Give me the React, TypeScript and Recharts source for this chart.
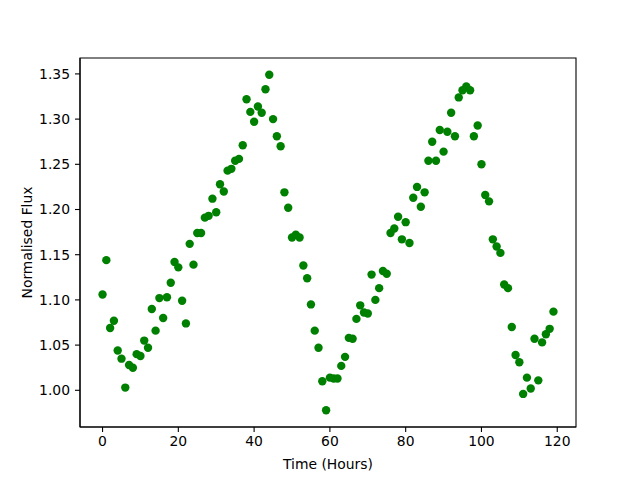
import { ReferenceArea, Scatter, ScatterChart, XAxis, YAxis } from "recharts";

const hours = Array.from({ length: 120 }, (_, i) => i);

const flux = [
  1.106, 1.144, 1.069, 1.077, 1.044, 1.035, 1.003, 1.028, 1.025, 1.040,
  1.038, 1.055, 1.047, 1.090, 1.066, 1.102, 1.080, 1.103, 1.119, 1.142,
  1.136, 1.099, 1.074, 1.162, 1.139, 1.174, 1.174, 1.191, 1.193, 1.212,
  1.197, 1.228, 1.220, 1.243, 1.245, 1.254, 1.256, 1.271, 1.322, 1.308,
  1.297, 1.314, 1.307, 1.333, 1.349, 1.300, 1.281, 1.270, 1.219, 1.202,
  1.169, 1.172, 1.169, 1.138, 1.124, 1.095, 1.066, 1.047, 1.010, 0.978,
  1.014, 1.013, 1.013, 1.027, 1.037, 1.058, 1.057, 1.079, 1.094, 1.086,
  1.085, 1.128, 1.100, 1.113, 1.132, 1.129, 1.174, 1.179, 1.192, 1.167,
  1.186, 1.163, 1.213, 1.225, 1.203, 1.219, 1.254, 1.275, 1.254, 1.288,
  1.264, 1.286, 1.307, 1.281, 1.324, 1.332, 1.336, 1.332, 1.281, 1.293,
  1.250, 1.216, 1.209, 1.167, 1.159, 1.152, 1.117, 1.113, 1.070, 1.039,
  1.031, 0.996, 1.014, 1.002, 1.057, 1.011, 1.053, 1.062, 1.068, 1.087,
];

const xTicks = [0, 20, 40, 60, 80, 100, 120];
const yTicks = [1.0, 1.05, 1.1, 1.15, 1.2, 1.25, 1.3, 1.35];

const X_DOMAIN: [number, number] = [-5.95, 124.95];
const Y_DOMAIN: [number, number] = [0.9594, 1.3676];

const data = hours.map((t, i) => ({ t, f: flux[i] }));

const font = { fontFamily: "DejaVu Sans", fontSize: 13.9, fill: "#000" };

const Dot = (props: any) => <circle cx={props.cx} cy={props.cy} r={4.2} fill="#008000" />;

export default function App() {
  return (
    <div style={{ position: "absolute", left: 0, top: 0, background: "#fff" }}>
      <ScatterChart width={640} height={480} margin={{ top: 58, right: 64, left: 0, bottom: 0 }}>
        <XAxis
          type="number"
          dataKey="t"
          domain={X_DOMAIN}
          ticks={xTicks}
          allowDataOverflow
          height={53}
          tickSize={5}
          tickMargin={4}
          tick={font}
          stroke="#000"
          tickLine={{ stroke: "#000", strokeWidth: 1.1 }}
          axisLine={{ stroke: "#000", strokeWidth: 1.1 }}
          label={{ value: "Time (Hours)", position: "insideBottom", offset: 11, style: font }}
        />
        <YAxis
          type="number"
          dataKey="f"
          domain={Y_DOMAIN}
          ticks={yTicks}
          allowDataOverflow
          width={80}
          tickSize={5}
          tickMargin={5}
          tick={font}
          tickFormatter={(v: number) => v.toFixed(2)}
          stroke="#000"
          tickLine={{ stroke: "#000", strokeWidth: 1.1 }}
          axisLine={{ stroke: "#000", strokeWidth: 1.1 }}
          label={{ value: "Normalised Flux", angle: -90, position: "center", dx: -13, style: font }}
        />
        <ReferenceArea
          x1={X_DOMAIN[0]}
          x2={X_DOMAIN[1]}
          y1={Y_DOMAIN[0]}
          y2={Y_DOMAIN[1]}
          fill="none"
          stroke="#000"
          strokeWidth={1.1}
          ifOverflow="visible"
        />
        <Scatter data={data} shape={Dot} isAnimationActive={false} />
      </ScatterChart>
    </div>
  );
}
